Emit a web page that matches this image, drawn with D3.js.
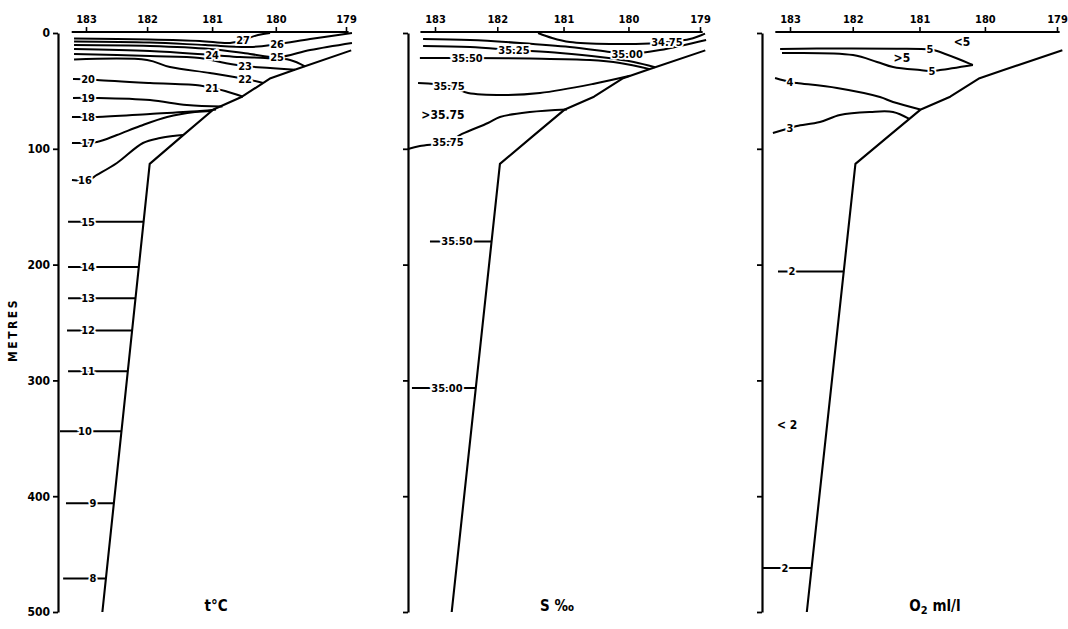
<!DOCTYPE html>
<html><head><meta charset="utf-8">
<script src="https://cdn.jsdelivr.net/npm/d3@7"></script>
<style>
body{margin:0;background:#fff;}
svg text{font-family:"DejaVu Sans Condensed","DejaVu Sans",sans-serif;font-weight:bold;fill:#000;}
</style></head><body>
<svg id="chart" width="1068" height="629"></svg>
<script>
// ---- data ----
const stations = ["183","182","181","180","179"];
const stationDist = [0, 23.5, 48.5, 73, 100];
const depthTicks = [0,100,200,300,400,500];
// sea floor (distance, depth m)
const bottomProfile = [[102,15],[80,32],[71,39],[60,55],[49,66],[37.5,88],[24.5,113],[6.3,500]];

// temperature isotherms (°C)
const tempCurves = [
 {labels:[["27",[60.4,6.0]]], pts:[[-4.6,4.7],[24.6,5.6],[43.8,6.9],[55.4,8.6],[60.4,6.0],[66.2,1.7],[70.8,0]]},
 {labels:[["26",[73.5,9.6]]], pts:[[-4.6,7.3],[24.6,8.2],[45.8,10.4],[63.1,12.1],[73.5,9.6],[86.2,5.2],[102.3,0]]},
 {labels:[["25",[73.5,21.0]]], pts:[[-4.6,10.4],[24.6,11.2],[47.7,13.8],[63.1,18.1],[73.5,21.0],[86.2,14.7],[102.3,8.6]]},
 {labels:[["24",[48.5,19.0]]], pts:[[-4.6,13.8],[24.6,15.5],[48.5,19.0],[59.2,20.7],[68.8,21.6],[78.5,23.3],[84.2,28.8]]},
 {labels:[["23",[61.2,28.6]]], pts:[[-4.6,18.1],[24.6,19.9],[43.8,21.6],[53.5,25.9],[61.2,28.6],[70.8,30.2],[80.4,31.7]]},
 {labels:[["22",[61.2,39.6]]], pts:[[-4.6,22.9],[23.5,23.3],[32.3,29.4],[47.7,34.5],[61.2,39.6],[68.1,43.2]]},
 {labels:[["20",[0.8,39.7]],["21",[48.5,47.5]]], pts:[[-5,39.7],[0.8,39.9],[4.2,40.6],[24.6,43.2],[43.8,45.3],[48.5,47.5],[53.5,50.1],[60.4,55]]},
 {labels:[["19",[0.8,56.1]]], pts:[[-5,56.1],[4.2,56.1],[24.6,57.9],[38.8,62.2],[52.5,63.5]]},
 {labels:[["18",[0.8,72.5]]], pts:[[-5.4,72.5],[4.2,72.5],[24.6,69.9],[43.8,67.4],[50,66]]},
 {labels:[["17",[0.8,95]]], pts:[[-5.4,95],[4.2,94.1],[11.9,88.1],[20.8,80.3],[31.2,72.5],[41.9,68.2],[48.5,67.3]]},
 {labels:[["16",[-0.4,127]]], pts:[[-5.4,127],[0.8,127],[4.2,122.6],[11.9,112.3],[21.9,95],[28.5,90.7],[33.5,88.9],[37.3,88.1]]}
];
const tempDeep = [
 {t:"15", depth:163, start:-6.9, at:0.8},
 {t:"14", depth:202, start:-6.9, at:0.8},
 {t:"13", depth:229, start:-6.9, at:0.8},
 {t:"12", depth:257, start:-7.3, at:0.8},
 {t:"11", depth:292, start:-6.9, at:0.8},
 {t:"10", depth:344, start:-10, at:-0.4},
 {t:"9", depth:406, start:-7.7, at:2.7},
 {t:"8", depth:471, start:-8.8, at:2.7}
];
const tempFree = [];

// salinity isohalines (‰)
const salCurves = [
 {labels:[["34.75",[87.5,7.8]]], pts:[[38.9,0],[44.2,4.3],[50.9,7.8],[66,9.5],[81.1,9],[87.5,7.8],[96.2,5.2],[101.9,0.5]]},
 {labels:[["35.00",[72.5,18.1]]], pts:[[-4.5,5.2],[13.2,6.0],[32.1,8.6],[50.9,12.1],[66,16.4],[72.5,18.1],[84.9,14.7],[102.3,6.0]]},
 {labels:[["35.25",[29.8,14.7]]], pts:[[-4.5,11.2],[13.2,12.1],[29.8,14.7],[47.2,17.3],[62.3,20.7],[75,25],[83,29.6]]},
 {labels:[["35.50",[12.1,21.6]]], pts:[[-5.7,21.6],[12.1,21.6],[35.8,22],[58.5,23.3],[69.8,25.9],[81.1,31.2]]},
 {labels:[["35.75",[5.3,45.8]]], pts:[[-6.4,43.2],[5.3,45.8],[12.5,51.8],[26.4,53.5],[39.6,51.8],[59.6,44],[73.6,37]]},
 {labels:[["35.75",[4.9,94.1]]], pts:[[-10.2,100.2],[-5.7,97.6],[4.9,94.1],[10.2,87.2],[20,77.7],[24.5,72.5],[35.8,68.2],[49.8,66]]}
];
const salDeep = [
 {t:"35.50", depth:180, start:-1.9, at:8.3},
 {t:"35.00", depth:306.6, start:-8.7, at:4.5}
];
const salFree = [[">35.75",[3,70.5]]];

// oxygen (ml/l)
const oxyCurves = [
 {labels:[["5",[52.4,14.2]]], pts:[[-3.7,13.8],[20,13.3],[40,13.5],[52.4,14.2],[55.1,15.5],[68.5,27.6]]},
 {labels:[["5",[53.2,32.8]]], pts:[[-3,17.3],[23.6,19],[32.6,25],[38.6,29.4],[48.7,32],[53.2,32.8],[56.2,32],[68.5,27.6]]},
 {labels:[["4",[0,42.3]]], pts:[[-5.6,38.9],[0,42.3],[2.6,43.2],[17.6,47.5],[33.7,55.3],[38.6,59.6],[48.8,66]]},
 {labels:[["3",[0,82]]], pts:[[-6.4,86.4],[0,82],[2.6,80.3],[11.2,76.9],[18.7,70.8],[30,68.2],[38.6,68.2],[44.5,74]]}
];
const oxyDeep = [
 {t:"2", depth:206, start:-4.5, at:0.7},
 {t:"2", depth:462, start:-10.1, at:-1.9}
];
const oxyFree = [[">5",[41.9,21.6]],["<5",[64.4,7.8]],["< 2",[-1.1,338.5]]];

// ---- layout ----
const panels = [
 {axisX:58, x0:86, x1:346, title:"t°C", titleX:216, curves:tempCurves, deep:tempDeep, free:tempFree, labels:true},
 {axisX:408, x0:435, x1:700, title:"S ‰", titleX:557, curves:salCurves, deep:salDeep, free:salFree, labels:false},
 {axisX:762, x0:790, x1:1057, title:"O2", titleX:935, curves:oxyCurves, deep:oxyDeep, free:oxyFree, labels:false}
];

const svg = d3.select("#chart");
const y = d3.scaleLinear().domain([0,500]).range([33,612]);
const bottomDistAt = d3.scaleLinear().domain(bottomProfile.map(d=>d[1])).range(bottomProfile.map(d=>d[0]));
const SW = 2;

panels.forEach(p => {
  const x = d3.scaleLinear().domain([0,100]).range([p.x0, p.x1]);
  const g = svg.append("g");
  const smooth = d3.line().x(d=>x(d[0])).y(d=>y(d[1])).curve(d3.curveCatmullRom.alpha(0.5));
  const straight = d3.line().x(d=>x(d[0])).y(d=>y(d[1]));

  // depth axis
  const ax = g.append("g").attr("transform",`translate(${p.axisX},0)`)
    .call(d3.axisLeft(y).tickValues(depthTicks).tickSize(5).tickSizeOuter(0)
      .tickFormat(p.labels ? d3.format("d") : ""));
  ax.select(".domain").attr("stroke","#000").attr("stroke-width",2.2);
  ax.selectAll(".tick line").attr("stroke","#000").attr("stroke-width",1.8);
  ax.selectAll(".tick text").attr("font-size",12).attr("x",-8)
    .style("font-family",'"DejaVu Sans Condensed",sans-serif').style("font-weight","bold");

  // station axis (surface)
  const top = g.append("g").attr("transform",`translate(0,${y(0)-1})`)
    .call(d3.axisTop(x).tickValues(stationDist).tickSize(5).tickSizeOuter(0)
      .tickFormat((d,i)=>stations[i]));
  top.select(".domain").remove();
  top.selectAll(".tick line").attr("stroke","#000").attr("stroke-width",1.6);
  top.selectAll(".tick text").attr("font-size",11).attr("y",-9)
    .style("font-family",'"DejaVu Sans Condensed",sans-serif').style("font-weight","bold");
  g.append("path").attr("d", straight([[-5.5,0],[101,0]]))
    .attr("transform","translate(0,-1)")
    .attr("fill","none").attr("stroke","#000").attr("stroke-width",2);

  // contours
  g.selectAll("path.c").data(p.curves).join("path").attr("class","c")
    .attr("d", d=>smooth(d.pts)).attr("fill","none").attr("stroke","#000")
    .attr("stroke-width",SW).attr("stroke-linejoin","round");

  // deep horizontal contours ending on the sea floor
  g.selectAll("path.d").data(p.deep).join("path").attr("class","d")
    .attr("d", d=>straight([[d.start,d.depth],[bottomDistAt(d.depth),d.depth]]))
    .attr("fill","none").attr("stroke","#000").attr("stroke-width",SW);

  // sea floor
  g.append("path").attr("d", straight(bottomProfile)).attr("fill","none")
    .attr("stroke","#000").attr("stroke-width",2.1).attr("stroke-linejoin","round");

  // labels with white halo
  const labs = [];
  p.curves.forEach(c => c.labels.forEach(l => labs.push({t:l[0], at:l[1]})));
  p.deep.forEach(d => labs.push({t:d.t, at:[d.at,d.depth]}));
  g.selectAll("text.l").data(labs).join("text").attr("class","l")
    .attr("x", d=>x(d.at[0])).attr("y", d=>y(d.at[1])).attr("dy","0.35em")
    .attr("text-anchor","middle").attr("font-size",11)
    .attr("stroke","#fff").attr("stroke-width",3.5).attr("paint-order","stroke")
    .text(d=>d.t);
  g.selectAll("text.f").data(p.free).join("text").attr("class","f")
    .attr("x", d=>x(d[1][0])).attr("y", d=>y(d[1][1])).attr("dy","0.35em")
    .attr("text-anchor","middle").attr("font-size",12)
    .text(d=>d[0]);

  // panel title
  const tt = g.append("text").attr("x",p.titleX).attr("y",611).attr("text-anchor","middle")
    .attr("font-size",15);
  if (p.title === "O2") {
    tt.append("tspan").text("O");
    tt.append("tspan").attr("font-size",11).attr("dy",3).text("2");
    tt.append("tspan").attr("dy",-3).text(" ml/l");
  } else {
    tt.text(p.title);
  }
});

svg.append("text").attr("transform","translate(17,330) rotate(-90)")
  .attr("text-anchor","middle").attr("font-size",12).attr("letter-spacing",2.5)
  .text("METRES");
</script>
</body></html>
